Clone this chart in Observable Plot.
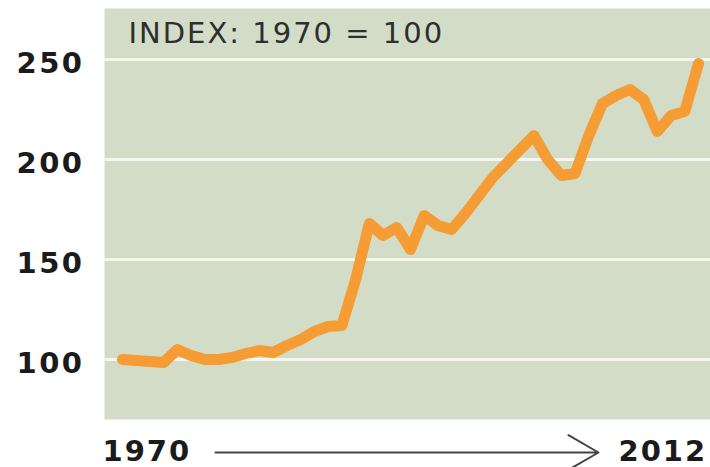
<!DOCTYPE html>
<html>
<head>
<meta charset="utf-8">
<script src="https://cdn.jsdelivr.net/npm/d3@7"></script>
<script src="https://cdn.jsdelivr.net/npm/@observablehq/plot@0.6"></script>
<style>
  html, body { margin: 0; padding: 0; background: #ffffff; }
  .ylab text { letter-spacing: 2.5px; }
  .xlab text { letter-spacing: 2px; }
  .title text { letter-spacing: 2px; }
</style>
</head>
<body>
<div id="chart"></div>
<script>
const years = [1970,1971,1972,1973,1974,1975,1976,1977,1978,1979,
               1980,1981,1982,1983,1984,1985,1986,1987,1988,1989,
               1990,1991,1992,1993,1994,1995,1996,1997,1998,1999,
               2000,2001,2002,2003,2004,2005,2006,2007,2008,2009,
               2010,2011,2012];
const indexValues = [100,99.5,99,98.5,105,102,100,100,101,103,
                     104.5,103.5,107,110,114,116.5,117,140,168,162,
                     166,155,172,167,165,173,182,191,198,205,
                     212,200,192,193,212,228,232,235,230,214,
                     222,224,248];
const yTicks = [100, 150, 200, 250];
const xLabels = [1970, 2012];
const titleText = "INDEX: 1970 = 100";

const data = years.map((year, i) => ({year, value: indexValues[i]}));

const chart = Plot.plot({
  width: 710,
  height: 467,
  marginLeft: 104,
  marginRight: 0,
  marginTop: 8,
  marginBottom: 48,
  style: {fontFamily: "DejaVu Sans, sans-serif", background: "#ffffff", overflow: "visible"},
  x: {domain: [1968.69, 2012.875], axis: null},
  y: {domain: [70, 275.5], axis: null},
  marks: [
    Plot.frame({fill: "#d3dcc6", stroke: null}),
    Plot.ruleY(yTicks, {stroke: "#f4f6ef", strokeWidth: 3}),
    Plot.axisY(yTicks, {
      className: "ylab",
      tickSize: 0, tickPadding: 20, fontSize: 29, fontWeight: "bold",
      fill: "#1b1b1b", dy: 4, label: null
    }),
    Plot.text([titleText], {
      className: "title",
      frameAnchor: "top-left", text: d => d, dx: 24, dy: 25,
      textAnchor: "start", lineAnchor: "middle",
      fontSize: 29, fill: "#2e2e2e"
    }),
    Plot.line(data, {
      x: "year", y: "value", stroke: "#f59c35", strokeWidth: 11,
      strokeLinejoin: "round", strokeLinecap: "round"
    }),
    Plot.text(xLabels, {
      className: "xlab",
      x: d => d, frameAnchor: "bottom", text: d => String(d),
      dy: 32, textAnchor: "start", lineAnchor: "middle",
      fontSize: 29, fontWeight: "bold", fill: "#1b1b1b"
    }),
    Plot.arrow([xLabels], {
      x1: d => d[0], x2: d => d[1],
      y1: () => 53.5, y2: () => 53.5,
      insetStart: 93, insetEnd: 100,
      stroke: "#444444", strokeWidth: 2,
      headLength: 26, headAngle: 60, bend: 0
    })
  ]
});

// shift the two year labels so they sit at the panel edges like the reference
d3.select(chart).selectAll(".xlab text").each(function(d, i) {
  d3.select(this).attr("dx", i === 0 ? -20 : -80);
});

document.getElementById("chart").appendChild(chart);
</script>
</body>
</html>
